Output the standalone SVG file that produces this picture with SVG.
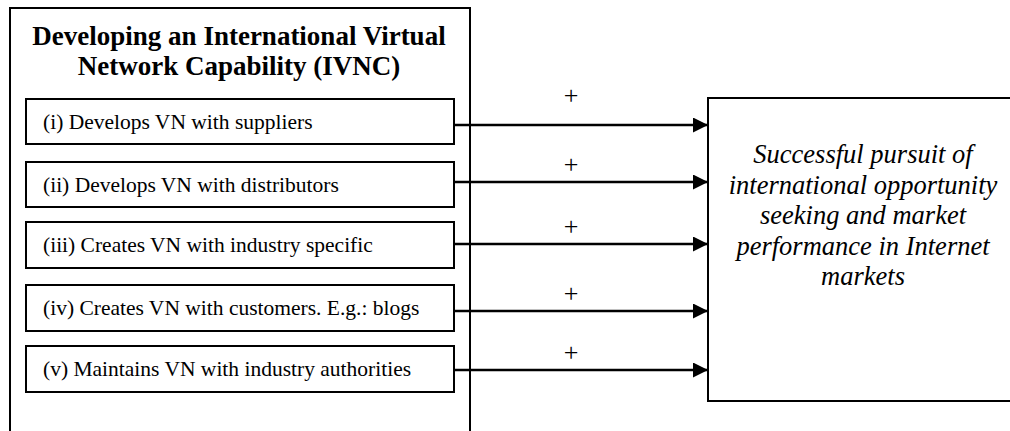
<svg xmlns="http://www.w3.org/2000/svg" width="1010" height="431" viewBox="0 0 1010 431">
<style>
.box{fill:#fff;stroke:#000;stroke-width:2}
.t{font-family:"Liberation Serif","Times New Roman",serif;fill:#000}
.title{font-size:27px;font-weight:bold;text-anchor:middle}
.item{font-size:21.5px}
.res{font-size:26.5px;font-style:italic;text-anchor:middle}
.plus{font-size:26px;text-anchor:middle}
.arr{stroke:#000;stroke-width:2.5;fill:none}
</style>
<defs>
<marker id="ah" markerUnits="userSpaceOnUse" markerWidth="16" markerHeight="16" refX="15" refY="7.5" orient="auto">
<path d="M0,0 L15,7.5 L0,15 Z" fill="#000"/>
</marker>
</defs>
<rect width="1010" height="431" fill="#fff"/>
<g id="ivnc">
<rect class="box" x="10" y="8" width="460" height="440"/>
<text class="t title" x="239" y="45">Developing an International Virtual</text>
<text class="t title" x="239" y="75">Network Capability (IVNC)</text>
</g>
<g id="item1"><rect class="box" x="26" y="99" width="428" height="45"/><text class="t item" x="43" y="129">(i) Develops VN with suppliers</text></g>
<g id="item2"><rect class="box" x="26" y="162" width="428" height="45"/><text class="t item" x="43" y="192">(ii) Develops VN with distributors</text></g>
<g id="item3"><rect class="box" x="26" y="222" width="428" height="46"/><text class="t item" x="43" y="252">(iii) Creates VN with industry specific</text></g>
<g id="item4"><rect class="box" x="26" y="285" width="428" height="46"/><text class="t item" x="43" y="315">(iv) Creates VN with customers. E.g.: blogs</text></g>
<g id="item5"><rect class="box" x="26" y="346" width="428" height="46"/><text class="t item" x="43" y="376">(v) Maintains VN with industry authorities</text></g>
<g id="outcome">
<rect class="box" x="708" y="98" width="320" height="303"/>
<text class="t res" x="863" y="163">Successful pursuit of</text>
<text class="t res" x="863" y="194">international opportunity</text>
<text class="t res" x="863" y="224">seeking and market</text>
<text class="t res" x="863" y="255">performance in Internet</text>
<text class="t res" x="863" y="285">markets</text>
</g>
<g id="connectors">
<line class="arr" x1="454" y1="125" x2="708" y2="125" marker-end="url(#ah)"/>
<line class="arr" x1="454" y1="182" x2="708" y2="182" marker-end="url(#ah)"/>
<line class="arr" x1="454" y1="244" x2="708" y2="244" marker-end="url(#ah)"/>
<line class="arr" x1="454" y1="311" x2="708" y2="311" marker-end="url(#ah)"/>
<line class="arr" x1="454" y1="370" x2="708" y2="370" marker-end="url(#ah)"/>
<text class="t plus" x="571" y="104">+</text>
<text class="t plus" x="571" y="173">+</text>
<text class="t plus" x="571" y="235">+</text>
<text class="t plus" x="571" y="302">+</text>
<text class="t plus" x="571" y="361">+</text>
</g>
</svg>
